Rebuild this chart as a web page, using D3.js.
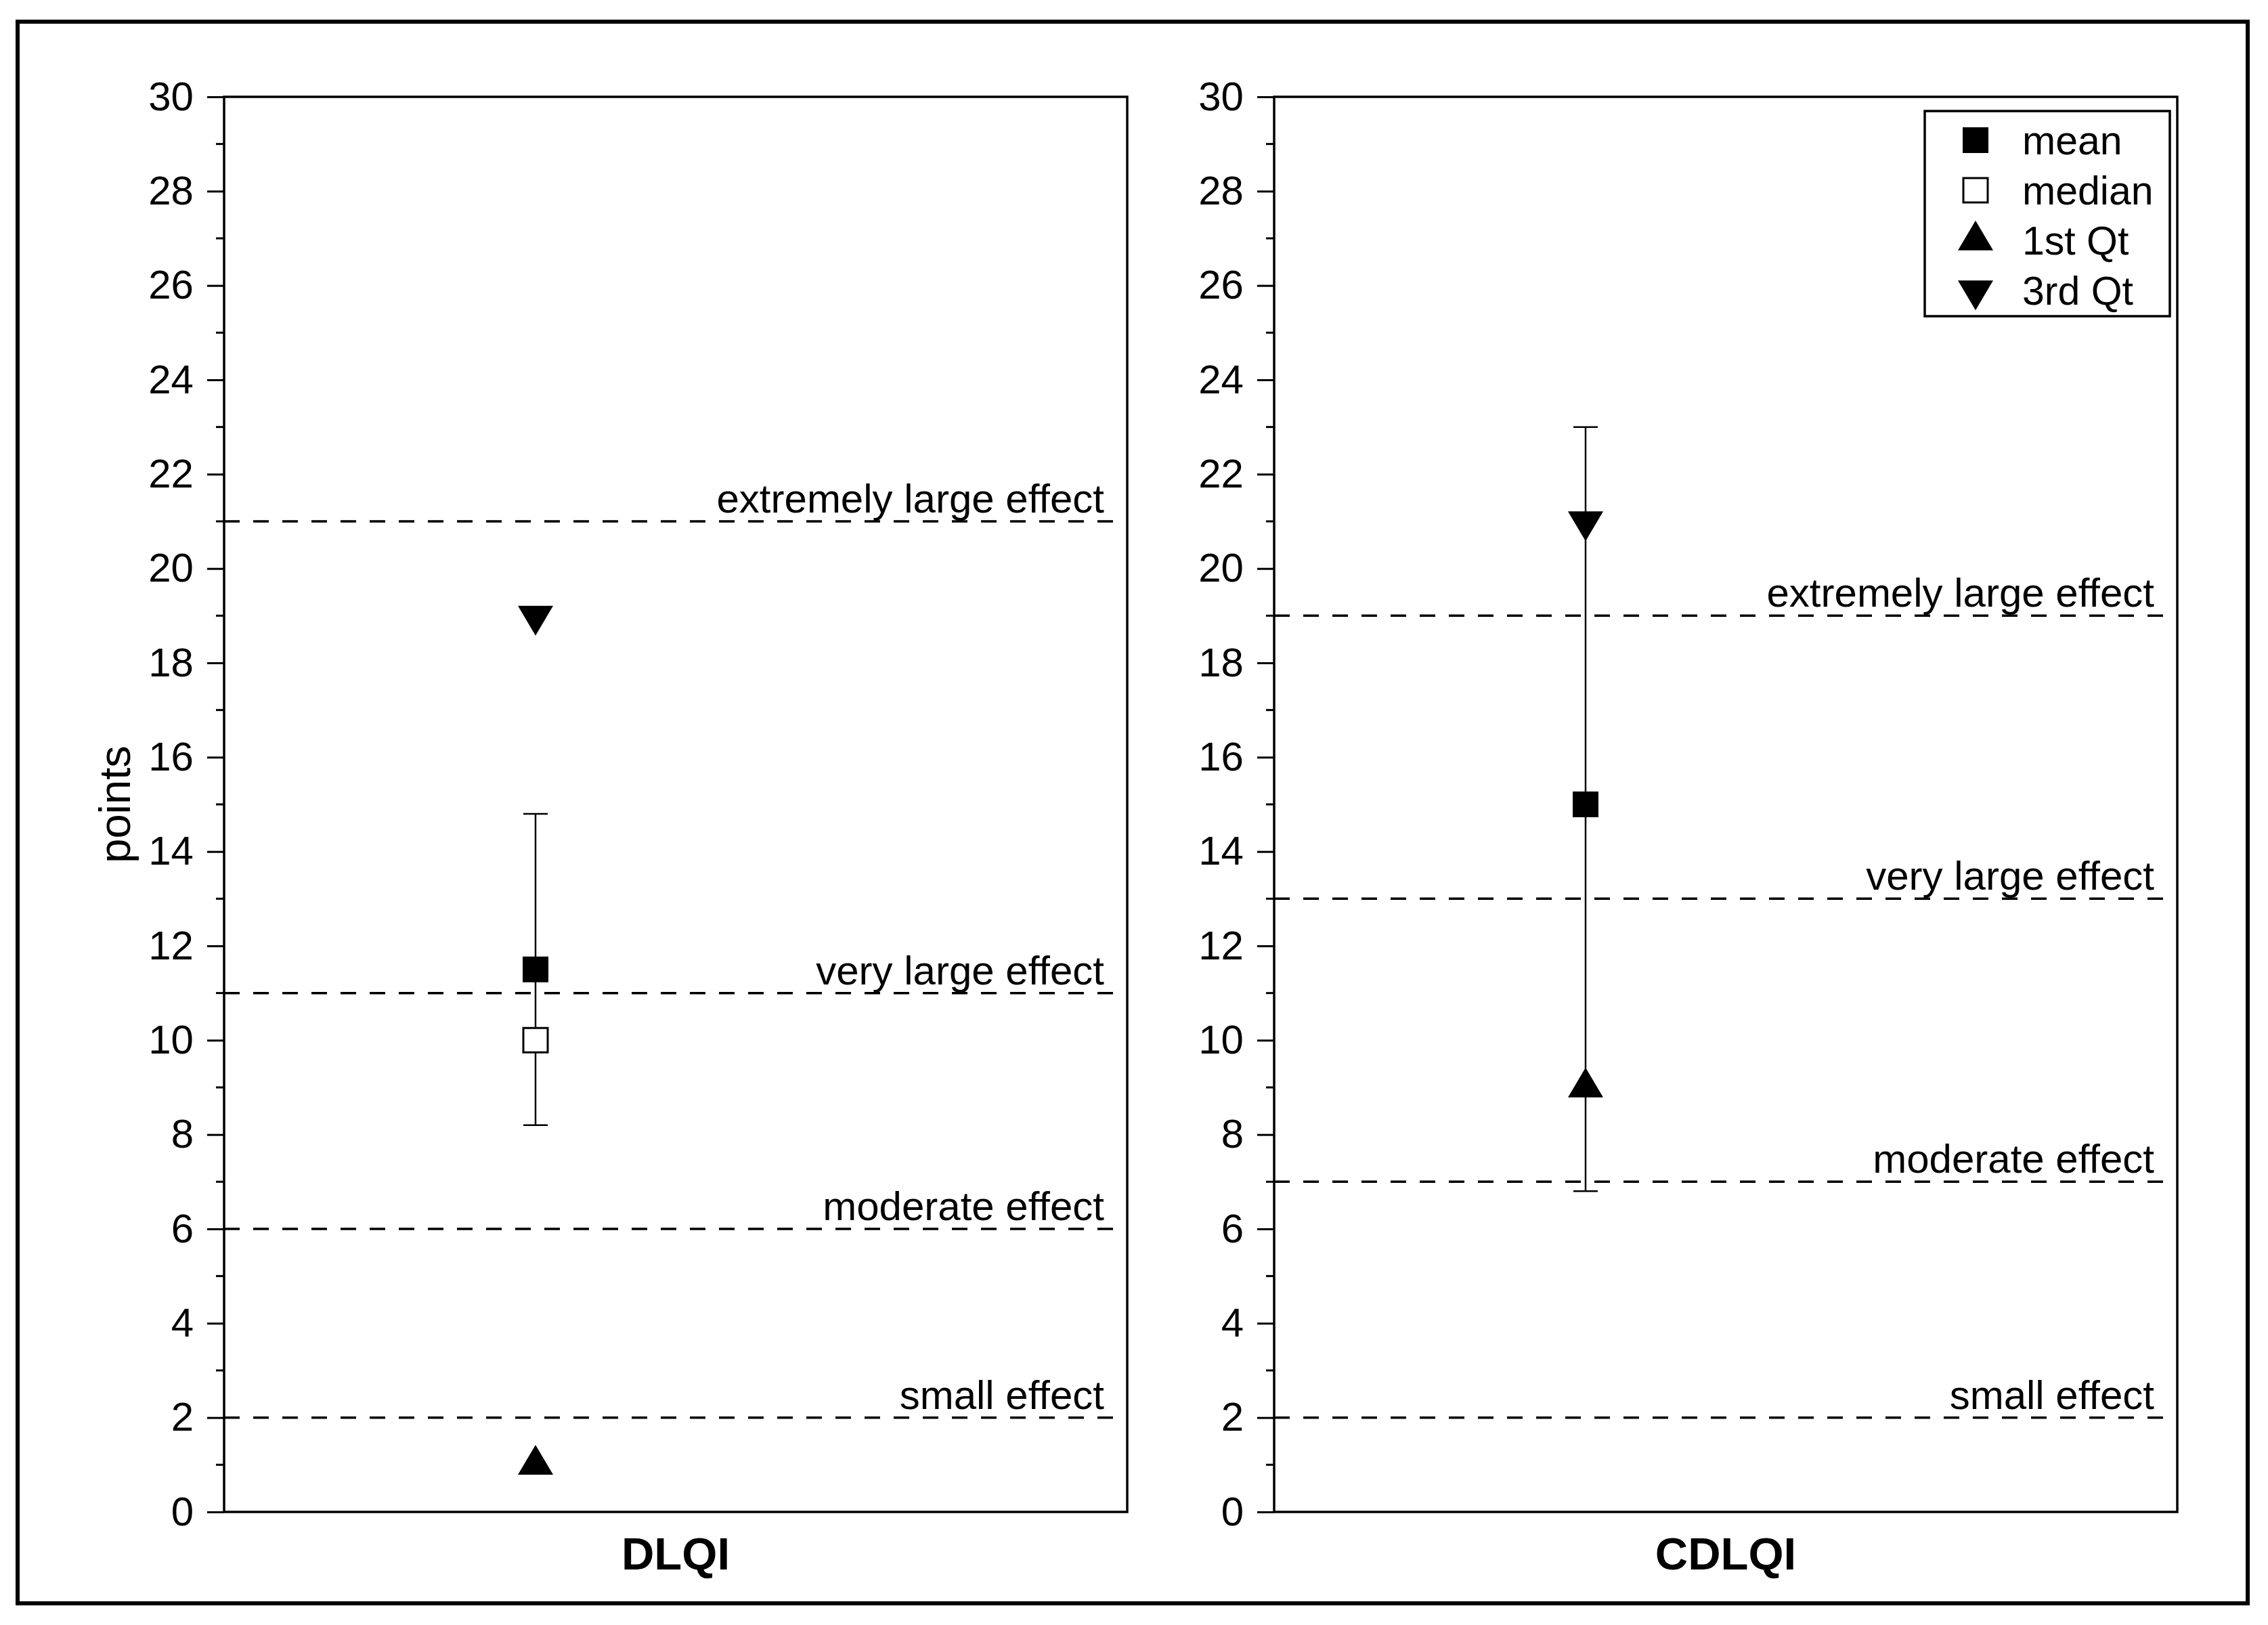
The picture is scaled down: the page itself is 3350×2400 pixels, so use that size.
<!DOCTYPE html>
<html lang="en">
<head>
    <meta charset="UTF-8">
    <title>DLQI / CDLQI</title>
    <script src="https://d3js.org/d3.v7.min.js" charset="utf-8"></script>
    <style>
        body { margin: 0; background: #fff; }
        text { font-family: "Liberation Sans", Arial, sans-serif; fill: #000; }
    </style>
</head>
<body>
<script>
    // values
    var panels = ["DLQI", "CDLQI"];
    var meanVals = [11.5, 15];
    var medianVals = [10, null];      // no median visible for CDLQI
    var q1Vals = [1, 9];
    var q3Vals = [19, 21];
    var errLow = [8.2, 6.8];
    var errHigh = [14.8, 23];
    var effectNames = ["small effect", "moderate effect", "very large effect", "extremely large effect"];
    var effectCuts = [[2, 6, 11, 21], [2, 7, 13, 19]];
    var yTicks = [0, 2, 4, 6, 8, 10, 12, 14, 16, 18, 20, 22, 24, 26, 28, 30];
    var yMinor = [1, 3, 5, 7, 9, 11, 13, 15, 17, 19, 21, 23, 25, 27, 29];
    var legendNames = ["mean", "median", "1st Qt", "3rd Qt"];

    var W = 3350, H = 2400;
    var plotTop = 143, plotBottom = 2233, plotW = 1334;
    var plotLefts = [331, 1882];

    var svg = d3.select("body").append("svg")
        .attr("width", W)
        .attr("height", H);

    // outer frame
    svg.append("rect")
        .attr("x", 26).attr("y", 32)
        .attr("width", 3294).attr("height", 2336)
        .attr("fill", "none").attr("stroke", "#000").attr("stroke-width", 6);

    var y = d3.scaleLinear().domain([0, 30]).range([plotBottom, plotTop]);
    var x = d3.scaleLinear().domain([0.5, 1.95]).range([0, plotW]);

    // marker shapes (triangles centred on their centroid)
    function square(s) {
        return "M" + (-s / 2) + "," + (-s / 2) + "h" + s + "v" + s + "h" + (-s) + "Z";
    }
    function triUp(w, h) {
        return "M0," + (-2 * h / 3) + "L" + (w / 2) + "," + (h / 3) + "L" + (-w / 2) + "," + (h / 3) + "Z";
    }
    function triDown(w, h) {
        return "M0," + (2 * h / 3) + "L" + (w / 2) + "," + (-h / 3) + "L" + (-w / 2) + "," + (-h / 3) + "Z";
    }
    var markers = [
        {path: square(38), fill: "#000", stroke: "none"},
        {path: square(36), fill: "#fff", stroke: "#000"},
        {path: triUp(52, 44), fill: "#000", stroke: "none"},
        {path: triDown(52, 44), fill: "#000", stroke: "none"}
    ];

    panels.forEach(function(name, i) {
        var g = svg.append("g")
            .attr("transform", "translate(" + plotLefts[i] + ",0)");

        // dashed effect lines and their labels
        effectCuts[i].forEach(function(v, k) {
            g.append("line")
                .attr("x1", 0).attr("x2", plotW)
                .attr("y1", y(v)).attr("y2", y(v))
                .attr("stroke", "#000").attr("stroke-width", 3.5)
                .attr("stroke-dasharray", "23,20");
            g.append("text")
                .attr("x", plotW - 34)
                .attr("y", y(v) - 13)
                .attr("text-anchor", "end")
                .style("font-size", "60px")
                .text(effectNames[k]);
        });

        // error bar
        var cx = x(1);
        g.append("line")
            .attr("x1", cx).attr("x2", cx)
            .attr("y1", y(errLow[i])).attr("y2", y(errHigh[i]))
            .attr("stroke", "#000").attr("stroke-width", 2.5);
        [errLow[i], errHigh[i]].forEach(function(v) {
            g.append("line")
                .attr("x1", cx - 18).attr("x2", cx + 18)
                .attr("y1", y(v)).attr("y2", y(v))
                .attr("stroke", "#000").attr("stroke-width", 2.5);
        });

        // points
        var vals = [meanVals[i], medianVals[i], q1Vals[i], q3Vals[i]];
        vals.forEach(function(v, k) {
            if (v === null) return;
            g.append("path")
                .attr("d", markers[k].path)
                .attr("transform", "translate(" + cx + "," + y(v) + ")")
                .attr("fill", markers[k].fill)
                .attr("stroke", markers[k].stroke)
                .attr("stroke-width", 3);
        });

        // y axis
        var axis = g.append("g")
            .call(d3.axisLeft(y).tickValues(yTicks).tickSize(25).tickPadding(20));
        axis.select(".domain").remove();
        axis.selectAll("line").attr("stroke-width", 3);
        axis.selectAll("text")
            .style("font-family", "'Liberation Sans', Arial, sans-serif")
            .style("font-size", "60px");

        g.selectAll(".minor").data(yMinor).enter()
            .append("line")
            .attr("x1", -12).attr("x2", 0)
            .attr("y1", function(d) { return y(d); })
            .attr("y2", function(d) { return y(d); })
            .attr("stroke", "#000").attr("stroke-width", 3);

        // plot frame
        g.append("rect")
            .attr("x", 0).attr("y", plotTop)
            .attr("width", plotW).attr("height", plotBottom - plotTop)
            .attr("fill", "none").attr("stroke", "#000").attr("stroke-width", 3.5);

        // category label
        g.append("text")
            .attr("x", plotW / 2)
            .attr("y", 2318)
            .attr("text-anchor", "middle")
            .style("font-size", "67px")
            .style("font-weight", "bold")
            .text(name);
    });

    // y axis title
    svg.append("text")
        .attr("transform", "translate(192," + ((plotTop + plotBottom) / 2) + ") rotate(-90)")
        .attr("text-anchor", "middle")
        .style("font-size", "65px")
        .text("points");

    // legend
    var leg = svg.append("g").attr("transform", "translate(2843,164)");
    leg.append("rect")
        .attr("width", 362).attr("height", 303)
        .attr("fill", "#fff").attr("stroke", "#000").attr("stroke-width", 3.5);
    legendNames.forEach(function(name, k) {
        var ly = 43 + k * 74;
        leg.append("path")
            .attr("d", markers[k].path)
            .attr("transform", "translate(75," + ly + ")")
            .attr("fill", markers[k].fill)
            .attr("stroke", markers[k].stroke)
            .attr("stroke-width", 3);
        leg.append("text")
            .attr("x", 144)
            .attr("y", ly + 21)
            .style("font-size", "59px")
            .text(name);
    });
</script>
</body>
</html>
